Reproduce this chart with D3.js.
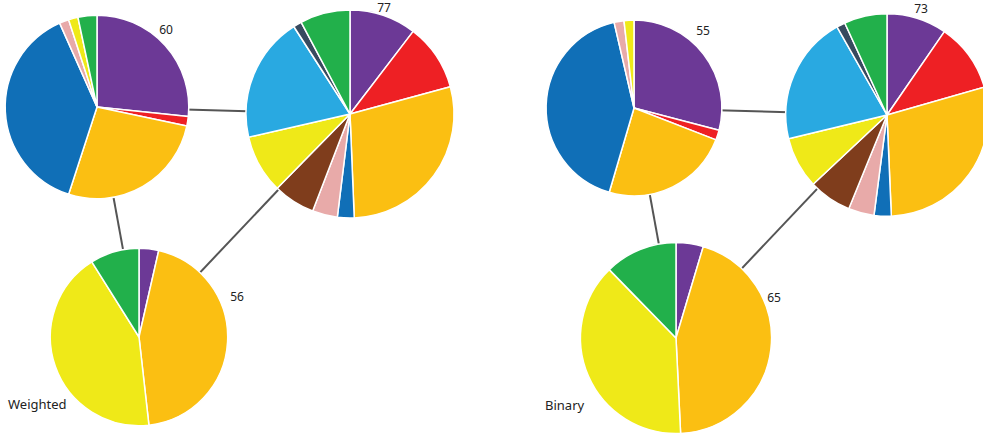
<!DOCTYPE html>
<html>
<head>
<meta charset="utf-8">
<script src="https://cdn.jsdelivr.net/npm/d3@7"></script>
<style>
	body { margin: 0; background: #fff; }
	svg { display: block; font-family: 'Noto Sans', sans-serif; }
</style>
</head>
<body>
<div id="chart"></div>
<script>
// category order as the slices run clockwise from 12 o'clock
const categories = ['c1', 'c2', 'c3', 'c4', 'c5', 'c6', 'c7', 'c8', 'c9', 'c10']
const categoryColors = ['#6C3996', '#EE2024', '#FBBF12', '#106FB7', '#E8AAA9', '#7F3D1C', '#EFE918', '#29A9E1', '#384A5F', '#22B04B']

const nodeIds = ['a', 'b', 'c']
const links = [['a', 'b'], ['a', 'c'], ['b', 'c']]

const panelTitles = ['Weighted', 'Binary']

// counts per category for nodes a, b, c
const weightedA = [16, 1, 16, 23, 1, 0, 1, 0, 0, 2]
const weightedB = [8, 8, 22, 2, 3, 5, 7, 15, 1, 6]
const weightedC = [2, 0, 25, 0, 0, 0, 24, 0, 0, 5]

const binaryA = [16, 1, 13, 23, 1, 0, 1, 0, 0, 0]
const binaryB = [7, 8, 21, 2, 3, 5, 6, 15, 1, 5]
const binaryC = [3, 0, 29, 0, 0, 0, 25, 0, 0, 8]

const panelData = [
	[weightedA, weightedB, weightedC],
	[binaryA, binaryB, binaryC],
]

// layout (not data)
const width = 983
const height = 437
const panelOffsets = [[0, 0], [537, 1]]
const nodePos = { a: [97, 107], b: [350, 114], c: [139, 337] }
const labelOffset = { a: [69, -78], b: [34, -107], c: [98, -41] }

const svg = d3.select('#chart')
	.append('svg')
	.attr('width', width)
	.attr('height', height)

const color = d3.scaleOrdinal().domain(categories).range(categoryColors)

const maxTotal = d3.max(panelData.flat(), d => d3.sum(d))
const radius = d3.scaleSqrt().domain([0, maxTotal]).range([0, 104])

const pie = d3.pie().sort(null).value(d => d.value)
const arc = d3.arc().innerRadius(0)

panelData.forEach((series, p) => {
	const [ox, oy] = panelOffsets[p]
	const g = svg.append('g').attr('transform', `translate(${ox},${oy})`)

	// links between node centres, behind the pies
	g.selectAll('line.link')
		.data(links)
		.join('line')
		.attr('class', 'link')
		.attr('x1', d => nodePos[d[0]][0])
		.attr('y1', d => nodePos[d[0]][1])
		.attr('x2', d => nodePos[d[1]][0])
		.attr('y2', d => nodePos[d[1]][1])
		.attr('stroke', '#555')
		.attr('stroke-width', 2)

	nodeIds.forEach((id, i) => {
		const values = series[i]
		const total = d3.sum(values)
		const r = radius(total)
		const slices = categories
			.map((c, k) => ({ category: c, value: values[k] }))
			.filter(d => d.value > 0)

		const node = g.append('g')
			.attr('transform', `translate(${nodePos[id][0]},${nodePos[id][1]})`)

		node.selectAll('path')
			.data(pie(slices))
			.join('path')
			.attr('d', arc.outerRadius(r))
			.attr('fill', d => color(d.data.category))
			.attr('stroke', '#fff')
			.attr('stroke-width', 1.5)
			.attr('stroke-linejoin', 'round')

		node.append('text')
			.attr('x', labelOffset[id][0])
			.attr('y', labelOffset[id][1])
			.attr('text-anchor', 'middle')
			.attr('dominant-baseline', 'central')
			.attr('font-size', 12)
			.attr('fill', '#222')
			.text(total)
	})

	g.append('text')
		.attr('x', 8)
		.attr('y', 409)
		.attr('font-size', 13)
		.attr('fill', '#222')
		.text(panelTitles[p])
})
</script>
</body>
</html>
